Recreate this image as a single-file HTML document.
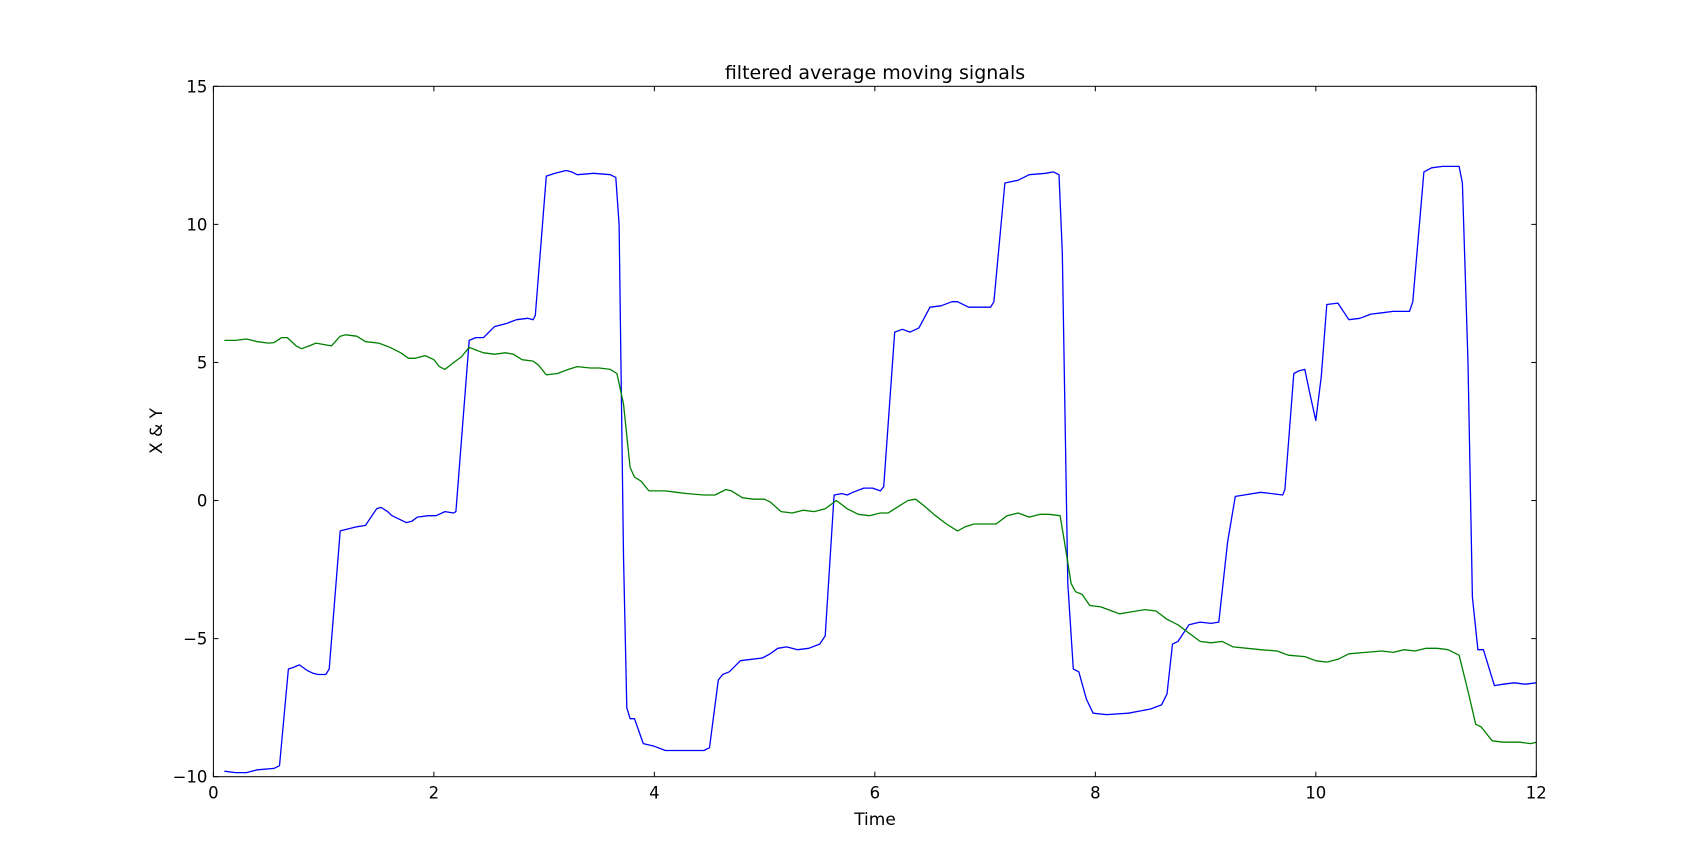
<!DOCTYPE html>
<html><head><meta charset="utf-8"><style>
html,body{margin:0;padding:0;background:#fff;}
svg{display:block;font-family:"DejaVu Sans","Liberation Sans",sans-serif;}
</style></head><body>
<svg id="chart" width="1707" height="863" viewBox="0 0 1707 863" xmlns="http://www.w3.org/2000/svg">
<rect width="1707" height="863" fill="#fff"/>
<text x="875" y="79" font-size="19" text-anchor="middle">filtered average moving signals</text>
<text x="875" y="825" font-size="17" text-anchor="middle">Time</text>
<text x="0" y="0" font-size="17" text-anchor="middle" transform="translate(162,431) rotate(-90)">X &amp; Y</text>
<g id="marks"></g>
<g id="ticks"></g>
<rect x="213.4" y="86.3" width="1322.9" height="690.4" fill="none" stroke="#000" stroke-width="1"/>
</svg>
<script>
const xTicks=[0,2,4,6,8,10,12];
const yTicks=[-10,-5,0,5,10,15];
const yTickLabels=["\u221210","\u22125","0","5","10","15"];
const xTimes=[0.1,0.2,0.3,0.4,0.55,0.6,0.68,0.72,0.78,0.85,0.9,0.95,1.02,1.05,1.15,1.2,1.3,1.38,1.48,1.52,1.58,1.62,1.7,1.75,1.8,1.85,1.95,2.02,2.1,2.18,2.2,2.32,2.38,2.45,2.55,2.65,2.75,2.85,2.9,2.92,3.02,3.1,3.2,3.25,3.3,3.45,3.6,3.65,3.68,3.72,3.75,3.78,3.82,3.9,4.0,4.1,4.3,4.45,4.5,4.58,4.62,4.68,4.78,4.88,4.98,5.05,5.12,5.2,5.3,5.4,5.5,5.55,5.63,5.7,5.75,5.8,5.9,5.98,6.05,6.08,6.18,6.25,6.32,6.4,6.5,6.6,6.7,6.75,6.85,6.95,7.05,7.08,7.18,7.3,7.4,7.55,7.62,7.67,7.7,7.75,7.8,7.85,7.92,7.98,8.1,8.3,8.5,8.6,8.65,8.7,8.75,8.85,8.95,9.05,9.12,9.2,9.27,9.35,9.5,9.6,9.7,9.72,9.8,9.85,9.9,9.95,10.0,10.05,10.1,10.2,10.3,10.4,10.5,10.6,10.7,10.85,10.88,10.98,11.05,11.15,11.3,11.33,11.38,11.42,11.47,11.52,11.62,11.7,11.8,11.9,12.0];
const xValues=[-9.8,-9.85,-9.85,-9.75,-9.7,-9.6,-6.1,-6.05,-5.95,-6.15,-6.25,-6.3,-6.3,-6.1,-1.1,-1.05,-0.95,-0.9,-0.3,-0.25,-0.4,-0.55,-0.7,-0.8,-0.75,-0.6,-0.55,-0.55,-0.4,-0.45,-0.4,5.8,5.9,5.9,6.3,6.4,6.55,6.6,6.55,6.7,11.75,11.85,11.95,11.9,11.8,11.85,11.8,11.7,10,-2,-7.5,-7.9,-7.9,-8.8,-8.9,-9.05,-9.05,-9.05,-8.95,-6.5,-6.3,-6.2,-5.8,-5.75,-5.7,-5.55,-5.35,-5.3,-5.4,-5.35,-5.2,-4.9,0.2,0.25,0.2,0.3,0.45,0.45,0.35,0.5,6.1,6.2,6.1,6.25,7.0,7.05,7.2,7.2,7.0,7.0,7.0,7.2,11.5,11.6,11.8,11.85,11.9,11.8,9,-3,-6.1,-6.2,-7.2,-7.7,-7.75,-7.7,-7.55,-7.4,-7.0,-5.2,-5.1,-4.5,-4.4,-4.45,-4.4,-1.5,0.15,0.2,0.3,0.25,0.2,0.4,4.6,4.7,4.75,3.8,2.9,4.5,7.1,7.15,6.55,6.6,6.75,6.8,6.85,6.85,7.2,11.9,12.05,12.1,12.1,11.5,5,-3.5,-5.4,-5.4,-6.7,-6.65,-6.6,-6.65,-6.6];
const yTimes=[0.1,0.2,0.3,0.4,0.5,0.55,0.62,0.67,0.75,0.8,0.87,0.93,1.0,1.07,1.15,1.2,1.3,1.38,1.5,1.6,1.7,1.77,1.83,1.92,2.0,2.05,2.1,2.18,2.25,2.32,2.38,2.45,2.55,2.65,2.72,2.8,2.9,2.95,3.02,3.12,3.22,3.3,3.42,3.5,3.6,3.66,3.72,3.78,3.82,3.88,3.95,4.1,4.2,4.3,4.45,4.55,4.65,4.7,4.8,4.9,5.0,5.05,5.15,5.25,5.35,5.45,5.55,5.65,5.75,5.85,5.95,6.05,6.12,6.2,6.3,6.37,6.45,6.55,6.65,6.75,6.82,6.9,7.0,7.1,7.2,7.3,7.4,7.5,7.58,7.68,7.72,7.78,7.82,7.88,7.95,8.05,8.15,8.22,8.3,8.45,8.55,8.65,8.75,8.85,8.95,9.05,9.15,9.25,9.5,9.65,9.75,9.9,10.0,10.1,10.2,10.3,10.45,10.6,10.7,10.8,10.9,11.0,11.1,11.2,11.3,11.38,11.45,11.5,11.6,11.7,11.85,11.95,12.0];
const yValues=[5.8,5.8,5.85,5.75,5.7,5.72,5.9,5.9,5.6,5.5,5.6,5.7,5.65,5.6,5.95,6.0,5.95,5.75,5.7,5.55,5.35,5.15,5.15,5.25,5.1,4.85,4.75,5.0,5.2,5.55,5.45,5.35,5.3,5.35,5.3,5.1,5.05,4.9,4.55,4.6,4.75,4.85,4.8,4.8,4.75,4.6,3.5,1.2,0.85,0.7,0.35,0.35,0.3,0.25,0.2,0.2,0.4,0.35,0.1,0.05,0.05,-0.05,-0.4,-0.45,-0.35,-0.4,-0.3,0.0,-0.3,-0.5,-0.55,-0.45,-0.45,-0.25,0.0,0.05,-0.2,-0.55,-0.85,-1.1,-0.95,-0.85,-0.85,-0.85,-0.55,-0.45,-0.6,-0.5,-0.5,-0.55,-1.5,-3.0,-3.3,-3.4,-3.8,-3.85,-4.0,-4.1,-4.05,-3.95,-4.0,-4.3,-4.5,-4.8,-5.1,-5.15,-5.1,-5.3,-5.4,-5.45,-5.6,-5.65,-5.8,-5.85,-5.75,-5.55,-5.5,-5.45,-5.5,-5.4,-5.45,-5.35,-5.35,-5.4,-5.6,-6.9,-8.1,-8.2,-8.7,-8.75,-8.75,-8.8,-8.75];

const L=213.4,R=1536.3,T=86.3,B=776.7;
function sx(t){return L+(t-0)/(12-0)*(R-L);}
function sy(v){return B-(v+10)/(15+10)*(B-T);}
const NS="http://www.w3.org/2000/svg";
const marks=document.getElementById('marks');
function line(ts,vs,color,name){
  const p=document.createElementNS(NS,'polyline');
  p.setAttribute('points',ts.map((t,i)=>sx(t).toFixed(1)+','+sy(vs[i]).toFixed(1)).join(' '));
  p.setAttribute('fill','none');p.setAttribute('stroke',color);p.setAttribute('stroke-width','1.3');
  p.setAttribute('stroke-linejoin','round');
  
  
  marks.appendChild(p);
}
line(xTimes,xValues,'#0000ff','series-x-line');
line(yTimes,yValues,'#008000','series-y-line');
const tg=document.getElementById('ticks');
function mk(tag,attrs){const e=document.createElementNS(NS,tag);for(const k in attrs)e.setAttribute(k,attrs[k]);tg.appendChild(e);return e;}
xTicks.forEach(t=>{
  const x=sx(t);
  mk('line',{x1:x,x2:x,y1:B,y2:B-5,stroke:'#000'});
  mk('line',{x1:x,x2:x,y1:T,y2:T+5,stroke:'#000'});
  const tx=mk('text',{x:x,y:B+22,'font-size':'16.5','text-anchor':'middle'});
  tx.textContent=String(t);
  
  
});
yTicks.forEach((v,i)=>{
  const y=sy(v);
  mk('line',{x1:L,x2:L+5,y1:y,y2:y,stroke:'#000'});
  mk('line',{x1:R,x2:R-5,y1:y,y2:y,stroke:'#000'});
  const tx=mk('text',{x:L-6,y:y+6,'font-size':'16.5','text-anchor':'end'});
  tx.textContent=yTickLabels[i];
  
  
});
</script>
</body></html>
